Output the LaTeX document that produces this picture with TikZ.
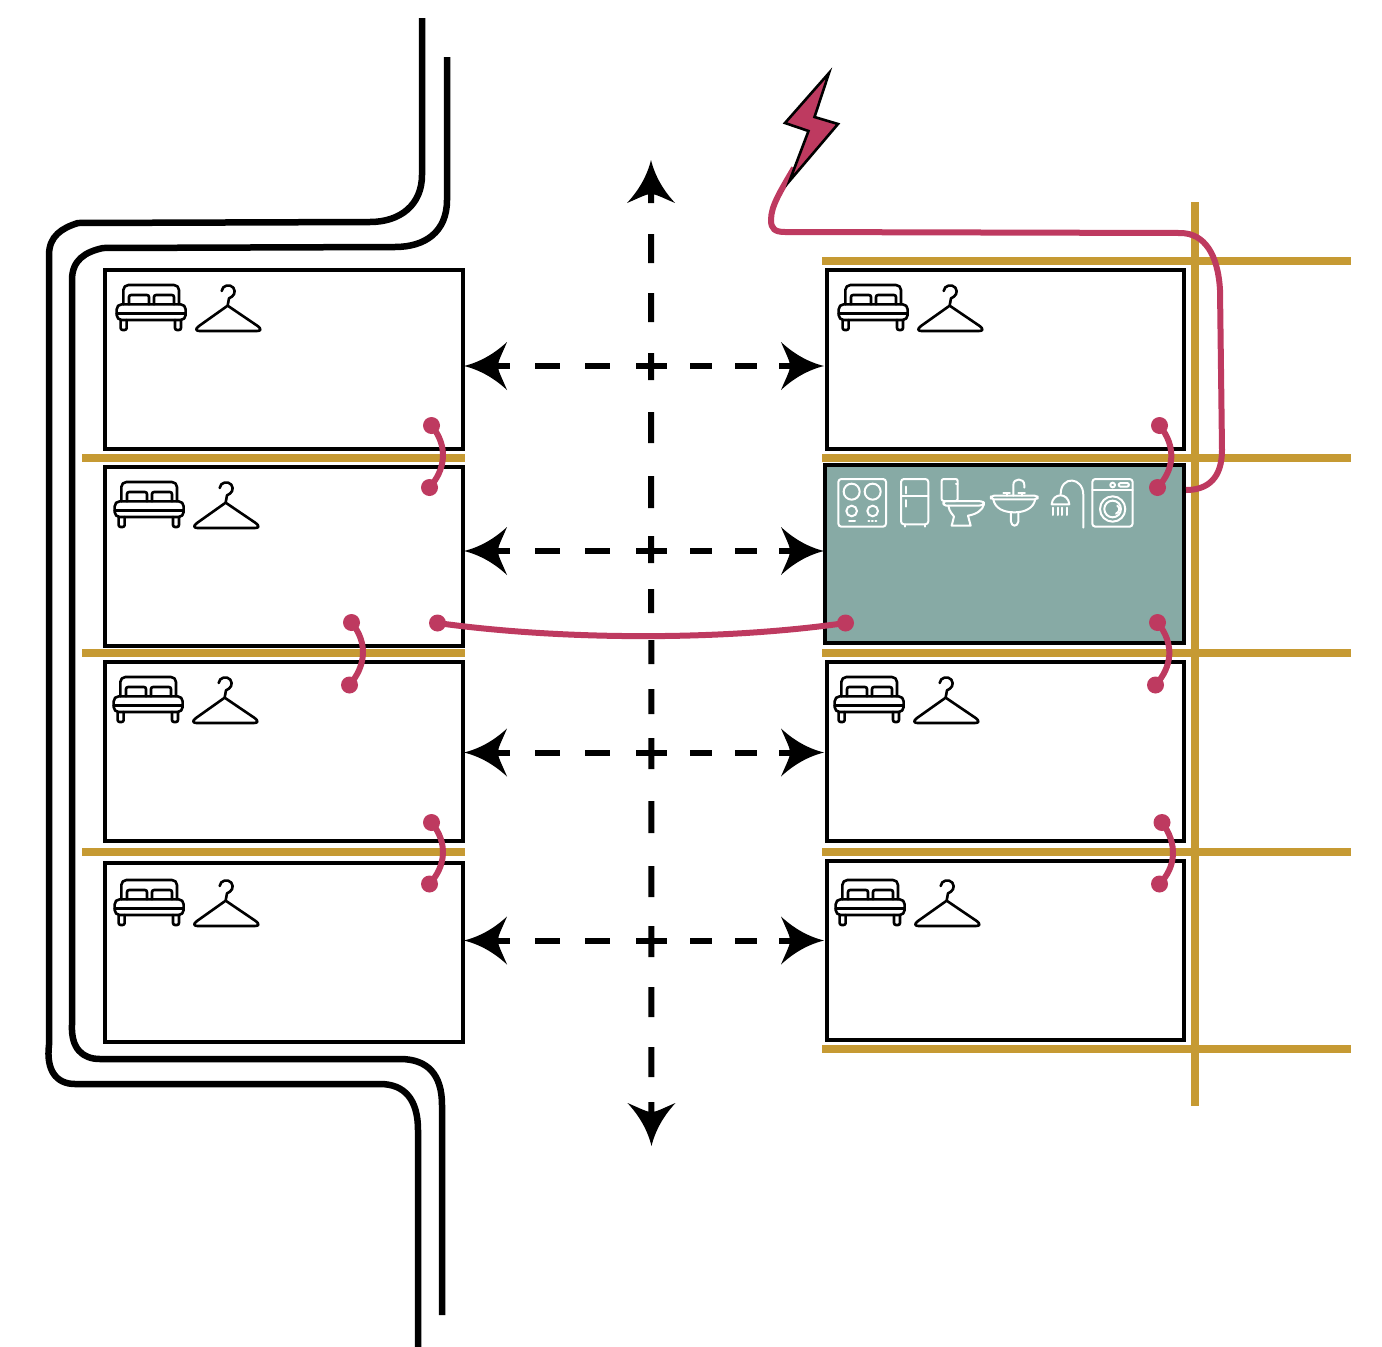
\documentclass[tikz,border=0pt]{standalone}
\usetikzlibrary{arrows.meta}
\definecolor{gold}{HTML}{C69A33}
\definecolor{tealfill}{HTML}{87AAA5}
\definecolor{wire}{HTML}{BE3A60}
\pgfdeclarearrow{
  name=Dart,
  setup code={
    \pgfarrowssetbackend{-43pt}
    \pgfarrowssetvisualbackend{-34pt}
    \pgfarrowssetlineend{-34pt}
    \pgfarrowssettipend{0pt}
  },
  drawing code={
    \pgfsetdash{}{0pt}
    \pgfpathmoveto{\pgfqpoint{0pt}{0pt}}
    \pgfpathcurveto{\pgfqpoint{-16pt}{4pt}}{\pgfqpoint{-30pt}{12pt}}{\pgfqpoint{-43pt}{24pt}}
    \pgfpathcurveto{\pgfqpoint{-38pt}{12pt}}{\pgfqpoint{-34pt}{5pt}}{\pgfqpoint{-34pt}{0pt}}
    \pgfpathcurveto{\pgfqpoint{-34pt}{-5pt}}{\pgfqpoint{-38pt}{-12pt}}{\pgfqpoint{-43pt}{-24pt}}
    \pgfpathcurveto{\pgfqpoint{-30pt}{-12pt}}{\pgfqpoint{-16pt}{-4pt}}{\pgfqpoint{0pt}{0pt}}
    \pgfpathclose
    \pgfusepathqfill
  },
  defaults={}
}
\tikzset{
  x=1pt,y=-1pt,
  room/.style={draw=black,line width=4pt,fill=white,minimum width=358pt,minimum height=179pt,inner sep=0pt,outer sep=0pt},
  rightroom/.style={room,minimum width=357pt},
  kitchen/.style={room,fill=tealfill,minimum width=359pt,minimum height=178pt},
  goldline/.style={draw=gold,line width=8pt},
  road/.style={draw=black,line width=6.5pt},
  wireline/.style={draw=wire,line width=6pt},
  plug/.style={circle,fill=wire,minimum size=17pt,inner sep=0pt,outer sep=0pt},
  crossway/.style={draw=black,line width=6pt,Dart[]-Dart[],
    dash pattern=on 12pt off 25pt on 25pt off 25pt on 25pt off 26pt on 31pt off 23pt on 22pt off 23pt on 22pt off 22pt on 20pt off 200pt},
  mainway/.style={draw=black,line width=6pt,Dart[]-Dart[],
    dash pattern=on 9pt off 31pt on 29pt off 30pt on 29pt off 31pt on 27pt off 32pt on 31pt off 33pt on 32pt off 28pt on 27pt off 26pt on 24pt off 27pt on 24pt off 25pt on 25pt off 24pt on 31pt off 32pt on 32pt off 33pt on 31pt off 29pt on 31pt off 30pt on 30pt off 30pt on 30pt off 25pt on 20pt off 200pt},
  whiteicon/.style={draw=white,line width=2pt,line join=round,line cap=round},
  blackicon/.style={draw=black,line width=2.6pt,line join=round,line cap=round,fill=none},
  pics/bedhanger/.style={code={
    \begin{scope}[x=.3333pt,y=-.3333pt]
      % bed
      \draw[blackicon,rounded corners=5pt] (55,88) -- (55,30) -- (222,30) -- (222,88);
      \draw[blackicon,rounded corners=2pt] (72,88) -- (72,60) -- (132,60) -- (132,88);
      \draw[blackicon,rounded corners=2pt] (147,88) -- (147,60) -- (207,60) -- (207,88);
      \draw[blackicon,rounded corners=5pt] (35,135) rectangle (242,88);
      \draw[blackicon] (35,115) -- (242,115);
      \draw[blackicon,rounded corners=2pt] (47,135) -- (47,165) -- (65,165) -- (65,135);
      \draw[blackicon,rounded corners=2pt] (210,135) -- (210,165) -- (228,165) -- (228,135);
      % hanger
      \draw[blackicon] (350,48) .. controls (352,30) and (375,26) .. (385,38)
        .. controls (395,52) and (385,65) .. (372,70) -- (368,92);
      \draw[blackicon] (368,92) -- (282,153) .. controls (270,162) and (272,168) .. (284,168)
        -- (456,168) .. controls (468,168) and (470,162) .. (458,153) -- cycle;
    \end{scope}
  }},
}
\begin{document}
\begin{tikzpicture}
\useasboundingbox (0,0) rectangle (1382,1347);

% gold grid
\coordinate (g1a) at (822,261); \coordinate (g1b) at (1351,261);
\coordinate (g2a) at (822,458); \coordinate (g2b) at (1351,458);
\coordinate (g3a) at (822,652.5); \coordinate (g3b) at (1351,652.5);
\coordinate (g4a) at (822,852); \coordinate (g4b) at (1351,852);
\coordinate (g5a) at (822,1049); \coordinate (g5b) at (1351,1049);
\coordinate (gva) at (1195,202); \coordinate (gvb) at (1195,1106);
\coordinate (h1a) at (82,458); \coordinate (h1b) at (465,458);
\coordinate (h2a) at (82,652.5); \coordinate (h2b) at (465,652.5);
\coordinate (h3a) at (82,852); \coordinate (h3b) at (465,852);
\foreach \a/\b in {g1a/g1b,g2a/g2b,g3a/g3b,g4a/g4b,g5a/g5b,gva/gvb,h1a/h1b,h2a/h2b,h3a/h3b}
  \draw[goldline] (\a) -- (\b);

% rooms
\node[room] (l1) at (284,359.5) {};
\node[room] (l2) at (284,556.5) {};
\node[room] (l3) at (284,751.5) {};
\node[room] (l4) at (284,952.5) {};
\node[rightroom] (r1) at (1005,359.5) {};
\node[kitchen] (r2) at (1004,554) {};
\node[rightroom] (r3) at (1005,751.5) {};
\node[rightroom] (r4) at (1005,950.5) {};

% bed and hanger icons
\pic at (105,275) {bedhanger};
\pic at (103,472) {bedhanger};
\pic at (102,667) {bedhanger};
\pic at (103,870) {bedhanger};
\pic at (827,275) {bedhanger};
\pic at (823,667) {bedhanger};
\pic at (824,870) {bedhanger};

% appliance icons
\begin{scope}[shift={(830,465)},x=.3333pt,y=-.3333pt]
  % hob
  \draw[whiteicon,rounded corners=3pt] (25,42) rectangle (168,185);
  \draw[whiteicon] (65,80) circle[radius=24];
  \draw[whiteicon] (128,80) circle[radius=24];
  \draw[whiteicon] (65,138) circle[radius=16];
  \draw[whiteicon] (128,138) circle[radius=16];
  \draw[whiteicon] (57,168) -- (75,168);
  \draw[whiteicon,dash pattern=on 1pt off 2.5pt] (115,168) -- (142,168);
  % fridge
  \draw[whiteicon,rounded corners=3pt] (213,42) rectangle (295,178);
  \draw[whiteicon] (213,93) -- (295,93);
  \draw[whiteicon] (228,65) -- (228,85) (228,105) -- (228,125);
  \draw[whiteicon] (225,178) -- (225,185) (285,178) -- (285,185);
  % toilet
  \draw[whiteicon,rounded corners=2pt] (335,42) rectangle (383,108);
  \draw[whiteicon] (383,58) -- (378,58);
  \draw[whiteicon,rounded corners=3pt] (340,108) -- (340,122) -- (455,122) -- (465,115) -- (455,108) -- cycle;
  \draw[whiteicon] (355,122) .. controls (357,140) and (370,150) .. (372,155) -- (365,182) -- (422,182) -- (414,152) .. controls (440,148) and (458,135) .. (462,118);
  % sink
  \draw[whiteicon,rounded corners=3pt] (483,92) rectangle (623,103);
  \draw[whiteicon] (490,103) .. controls (495,130) and (520,142) .. (553,142) .. controls (585,142) and (610,130) .. (616,103);
  \draw[whiteicon] (543,142) -- (543,170) .. controls (545,186) and (562,186) .. (565,170) -- (565,142);
  \draw[whiteicon] (550,92) -- (550,60) .. controls (550,38) and (583,38) .. (583,60) -- (583,68);
  \draw[whiteicon] (520,84) -- (540,84) (530,84) -- (530,92) (565,84) -- (585,84) (575,84) -- (575,92);
  % shower
  \draw[whiteicon] (760,188) -- (760,90) .. controls (760,35) and (692,30) .. (692,88);
  \draw[whiteicon] (665,118) .. controls (668,82) and (715,82) .. (718,118) -- cycle;
  \draw[whiteicon] (670,128) -- (670,150) (683,128) -- (683,150) (697,128) -- (697,150) (711,128) -- (711,150);
  % washer
  \draw[whiteicon,rounded corners=3pt] (787,42) rectangle (908,185);
  \draw[whiteicon] (787,75) -- (908,75);
  \draw[whiteicon] (848,60) circle[radius=7];
  \draw[whiteicon,rounded corners=2pt] (866,54) rectangle (897,65);
  \draw[whiteicon] (848,132) circle[radius=38];
  \draw[whiteicon] (848,132) circle[radius=25];
  \draw[whiteicon] (862,122) .. controls (872,128) and (868,142) .. (858,146);
\end{scope}

% roads
\coordinate (ra1) at (422,18); \coordinate (ra2) at (418,1347);
\coordinate (rb1) at (447,57); \coordinate (rb2) at (442,1315);
\draw[road] (ra1) -- (422,175) .. controls (422,205) and (400,222) .. (370,222)
  -- (78,223) .. controls (62,228) and (49,236) .. (49,255)
  -- (49,1045) .. controls (46,1070) and (56,1084) .. (75,1084)
  -- (380,1084) .. controls (405,1084) and (418,1100) .. (418,1130) -- (ra2);
\draw[road] (rb1) -- (447,200) .. controls (447,232) and (425,247) .. (395,247)
  -- (103,248) .. controls (85,252) and (72,260) .. (72,280)
  -- (72,1025) .. controls (71,1048) and (82,1059) .. (100,1059)
  -- (400,1059) .. controls (428,1059) and (442,1075) .. (442,1105) -- (rb2);

% access arrows
\coordinate (w1) at (464,366); \coordinate (e1) at (824,366);
\coordinate (w2) at (464,551); \coordinate (e2) at (824,551);
\coordinate (w3) at (464,752.5); \coordinate (e3) at (824,752.5);
\coordinate (w4) at (464,940.5); \coordinate (e4) at (824,940.5);
\foreach \i in {1,2,3,4}
  \draw[crossway] (w\i) -- (e\i);
\coordinate (ntop) at (651,160); \coordinate (nbot) at (651.5,1146);
\draw[mainway] (ntop) -- (nbot);

% wires
\node[plug] (a1) at (431.5,425.5) {}; \node[plug] (a2) at (429.5,487.5) {};
\node[plug] (b1) at (351.5,622.5) {}; \node[plug] (b2) at (349.5,685) {};
\node[plug] (c1) at (431.5,822.5) {}; \node[plug] (c2) at (429.5,884) {};
\node[plug] (d1) at (1159.5,425.5) {}; \node[plug] (d2) at (1157.5,487.5) {};
\node[plug] (e5) at (1157.5,622.5) {}; \node[plug] (e6) at (1155.5,685) {};
\node[plug] (f1) at (1162,822.5) {}; \node[plug] (f2) at (1159.5,884) {};
\node[plug] (m1) at (437.5,623) {}; \node[plug] (m2) at (845.5,623) {};
\draw[wireline] (a1.center) .. controls (449,447) and (445,470) .. (a2.center);
\draw[wireline] (b1.center) .. controls (369,644) and (365,667) .. (b2.center);
\draw[wireline] (c1.center) .. controls (449,844) and (445,867) .. (c2.center);
\draw[wireline] (d1.center) .. controls (1177,447) and (1174,470) .. (d2.center);
\draw[wireline] (e5.center) .. controls (1175,644) and (1172,667) .. (e6.center);
\draw[wireline] (f1.center) .. controls (1178,844) and (1176,867) .. (f2.center);
\draw[wireline] (m1.center) .. controls (560,640) and (720,641) .. (m2.center);

% lightning bolt and feed
\coordinate (boltend) at (794,168);
\coordinate (feedend) at (1186,490);
\draw[wireline] (boltend) .. controls (780,192) and (771,206) .. (771,220)
  .. controls (771,229) and (775,232) .. (785,232)
  -- (1180,233) .. controls (1205,233) and (1218,255) .. (1220,290)
  -- (1222,450) .. controls (1222,478) and (1208,490) .. (feedend);
\path[draw=black,fill=wire,line width=2.6pt,line join=miter,miter limit=6]
  (829,73) -- (785,123) -- (808.5,131) -- (789.5,181) -- (838,124) -- (814.5,117) -- cycle;
\end{tikzpicture}
\end{document}
